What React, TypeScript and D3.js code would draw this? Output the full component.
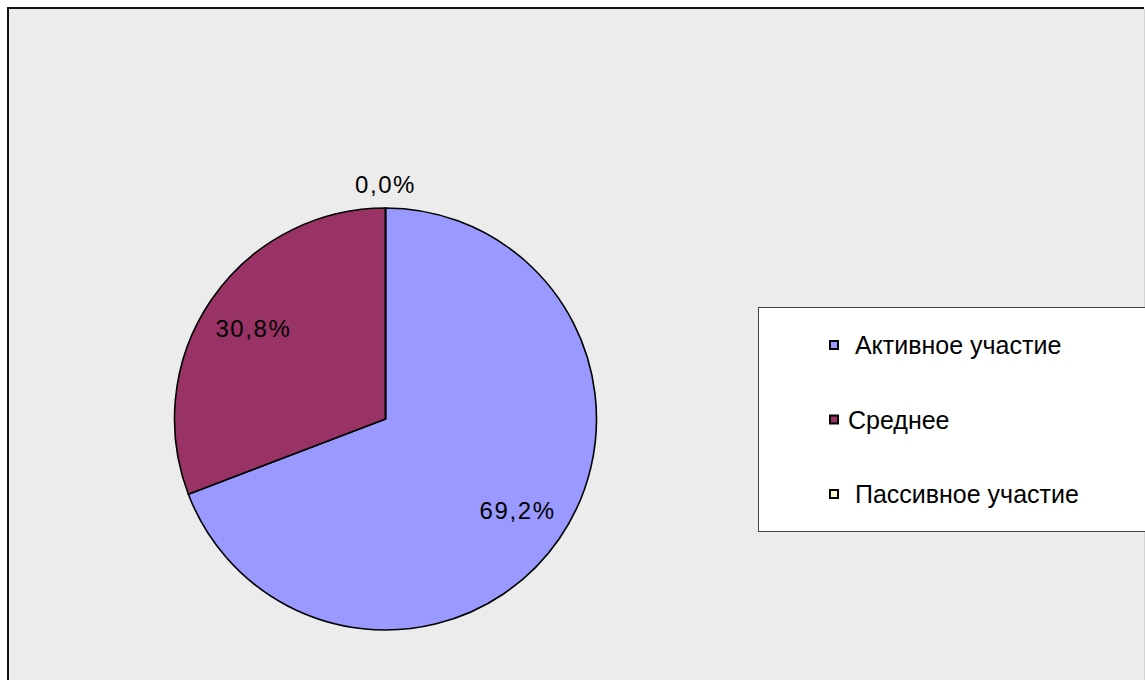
import React, { useRef, useEffect } from 'react';
import * as d3 from 'd3';

// data
const categories = [' Активное участие', 'Среднее', ' Пассивное участие'];
const shares = [69.2, 30.8, 0.0];
const sliceColors = ['#9999ff', '#993366', '#ffffcc'];

const W = 1145;
const H = 680;

const App = () => {
    const ref = useRef<SVGSVGElement>(null);

    useEffect(() => {
        const svg = d3.select(ref.current);
        svg.selectAll('*').remove();

        // chart area frame (only left + top edges are dark, right edge is cut off)
        svg.append('rect').attr('x', 0).attr('y', 0).attr('width', W).attr('height', H).attr('fill', '#ffffff');
        svg.append('rect')
            .attr('x', 8)
            .attr('y', 8)
            .attr('width', 1136)
            .attr('height', H)
            .attr('fill', '#ececec');
        svg.append('path')
            .attr('d', `M8,${H}V8H1144`)
            .attr('fill', 'none')
            .attr('stroke', '#111')
            .attr('stroke-width', 2);
        svg.append('line')
            .attr('x1', 1144.5).attr('x2', 1144.5).attr('y1', 9).attr('y2', H)
            .attr('stroke', '#d4d4d4').attr('stroke-width', 1);

        const cx = 385.5;
        const cy = 419;
        const r = 211;

        const pie = d3.pie<number>().sort(null).value((d) => d);
        const arcs = pie(shares);
        const arc = d3.arc<d3.PieArcDatum<number>>().innerRadius(0).outerRadius(r);
        const labelArc = d3.arc<d3.PieArcDatum<number>>().innerRadius(r * 0.76).outerRadius(r * 0.76);

        const g = svg.append('g').attr('transform', `translate(${cx},${cy})`);

        g.selectAll('path.slice')
            .data(arcs)
            .join('path')
            .attr('class', 'slice')
            .attr('d', arc)
            .attr('fill', (d, i) => sliceColors[i])
            .attr('stroke', '#000')
            .attr('stroke-width', 1.6)
            .attr('stroke-linejoin', 'round');

        const fmt = (v: number) => v.toFixed(1).replace('.', ',') + '%';

        g.selectAll('text.lbl')
            .data(arcs)
            .join('text')
            .attr('class', 'lbl')
            .attr('transform', (d) => {
                if (d.endAngle - d.startAngle < 0.01) {
                    const a = d.startAngle;
                    const rr = r + 24;
                    return `translate(${Math.sin(a) * rr},${-Math.cos(a) * rr})`;
                }
                const [x, y] = labelArc.centroid(d);
                return `translate(${x},${y})`;
            })
            .attr('text-anchor', 'middle')
            .attr('dy', '0.36em')
            .attr('font-family', 'Liberation Sans, Arial, sans-serif')
            .attr('font-size', 24)
            .attr('letter-spacing', 1.6)
            .attr('fill', '#000')
            .text((d) => fmt(d.data));

        // legend
        const lg = svg.append('g');
        lg.append('rect')
            .attr('x', 758.5)
            .attr('y', 307.5)
            .attr('width', 400)
            .attr('height', 224)
            .attr('fill', '#fff')
            .attr('stroke', '#444')
            .attr('stroke-width', 1);

        const rowY = d3.scalePoint<string>().domain(categories).range([345, 494]);

        const items = lg.selectAll('g.item').data(categories).join('g').attr('class', 'item')
            .attr('transform', (d) => `translate(829,${rowY(d)})`);
        items.append('rect')
            .attr('x', 1)
            .attr('y', -4)
            .attr('width', 8)
            .attr('height', 8)
            .attr('fill', (d, i) => sliceColors[i])
            .attr('stroke', '#000')
            .attr('stroke-width', 2);
        items.append('text')
            .attr('x', 19)
            .attr('dy', '0.36em')
            .attr('font-family', 'Liberation Sans, Arial, sans-serif')
            .attr('font-size', 25)
            .attr('fill', '#000')
            .style('white-space', 'pre')
            .text((d) => d);
    }, []);

    return (
        <div style={{ position: 'absolute', left: 0, top: 0 }}>
            <svg ref={ref} width={W} height={H} style={{ display: 'block' }} />
        </div>
    );
};

export default App;
